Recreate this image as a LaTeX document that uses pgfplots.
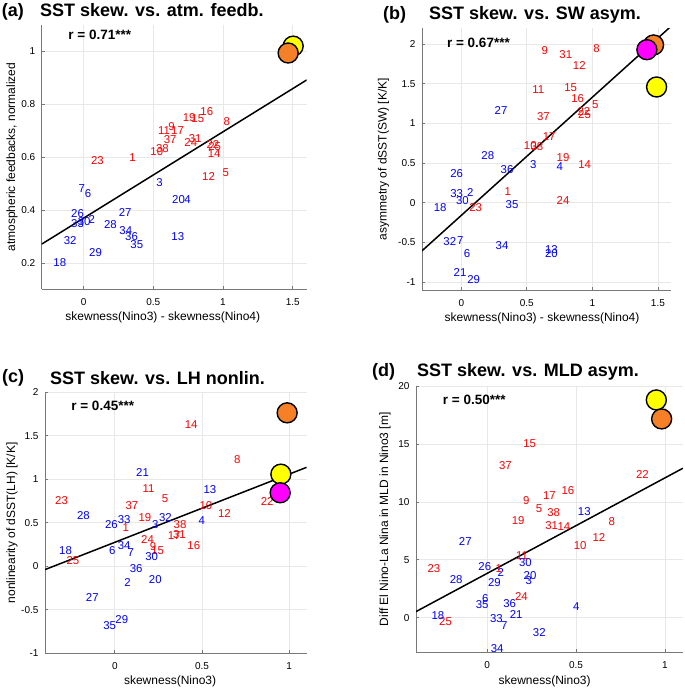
\documentclass[border=0pt]{standalone}
\usepackage{fontspec}
\setmainfont{Liberation Sans}
\usepackage{pgfplots}
\pgfplotsset{compat=1.18}
\definecolor{gridc}{RGB}{232,232,232}
\definecolor{axc}{RGB}{120,120,120}
\definecolor{morange}{RGB}{246,128,40}
\definecolor{myellow}{RGB}{255,255,0}
\definecolor{mmag}{RGB}{255,0,255}
\tikzset{rlab/.style={anchor=west, inner sep=0pt, font=\bfseries\fontsize{13.5}{15}\selectfont},
         plab/.style={font=\bfseries\fontsize{18}{20}\selectfont, anchor=west, inner sep=0pt},
         ttl/.style={font=\bfseries\fontsize{18}{20}\selectfont, anchor=west, inner sep=0pt}}
\pgfplotsset{
  base/.style={
    scale only axis, anchor=south west,
    axis x line*=bottom, axis y line*=left,
    axis line style={axc, line width=0.7pt, -},
    grid=major, grid style={gridc, line width=0.7pt},
    tick align=inside, major tick length=3pt,
    tick style={axc, line width=0.7pt},
    ticklabel style={font=\fontsize{10}{12}\selectfont, text=black},
    xticklabel style={yshift=-6pt},
    yticklabel style={xshift=-3pt},
    label style={font=\fontsize{12}{14}\selectfont},
    xlabel style={anchor=center},
    ylabel style={anchor=center},
    clip mode=individual,
  },
  lab/.style={draw=none, mark=none, nodes near coords, point meta=explicit symbolic,
    every node near coord/.append style={anchor=center, inner sep=0pt, text=#1, font=\fontsize{11.4}{12}\selectfont}},
  circ/.style={only marks, mark=*, mark size=10pt, mark options={fill=#1, draw=black, line width=1.4pt}},
  reg/.style={black, line width=1.5pt, no marks},
}
\begin{document}
\begin{tikzpicture}
\path[use as bounding box] (0pt,0pt) rectangle (685pt,688pt);
% ---------------- (a)
\begin{axis}[base, at={(41.7pt,398.7pt)}, width=265pt, height=264.3pt,
  xmin=-0.3, xmax=1.6, ymin=0.1, ymax=1.1,
  xtick={0,0.5,1,1.5}, xticklabels={0,0.5,1,1.5},
  ytick={0.2,0.4,0.6,0.8,1}, yticklabels={0.2,0.4,0.6,0.8,1},
  xlabel={skewness(Nino3) - skewness(Nino4)},
  ylabel={atmospheric feedbacks, normalized},
  xlabel style={at={(axis description cs:0.457,-0.107)}},
  ylabel style={at={(axis description cs:-0.112,0.5)}}]
\addplot[reg] coordinates {(-0.3,0.271) (1.6,0.892)};
\addplot[lab=red] table[meta=l] {
x y l
0.884 0.773 16
0.757 0.749 19
0.819 0.744 15
1.027 0.736 8
0.578 0.699 11
0.631 0.716 9
0.674 0.699 17
0.621 0.666 37
0.800 0.670 31
0.769 0.657 24
0.928 0.647 22
0.940 0.640 25
0.937 0.613 14
0.566 0.631 38
0.525 0.622 10
0.351 0.597 1
0.100 0.587 23
0.896 0.527 12
1.020 0.540 5
};
\addplot[lab=blue] table[meta=l] {
x y l
0.545 0.504 3
-0.012 0.481 7
0.033 0.462 6
0.681 0.439 20
0.745 0.440 4
-0.043 0.386 26
0.298 0.390 27
-0.043 0.349 33
0.004 0.355 30
0.060 0.364 2
0.193 0.345 28
0.303 0.321 34
0.344 0.298 36
0.382 0.271 35
0.676 0.300 13
-0.096 0.285 32
0.086 0.239 29
-0.170 0.200 18
};
\addplot[circ=myellow] coordinates {(1.503,1.02)};
\addplot[circ=morange] coordinates {(1.467,0.994)};
\node[rlab] at (rel axis cs:0.1,0.962) {r = 0.71***};
\end{axis}
% ---------------- (b)
\begin{axis}[base, at={(422pt,398pt)}, width=249pt, height=261.7pt,
  xmin=-0.3, xmax=1.6, ymin=-1.1, ymax=2.2,
  xtick={0,0.5,1,1.5}, xticklabels={0,0.5,1,1.5},
  ytick={-1,-0.5,0,0.5,1,1.5,2}, yticklabels={-1,-0.5,0,0.5,1,1.5,2},
  xlabel={skewness(Nino3) - skewness(Nino4)},
  ylabel={asymmetry of dSST(SW) [K/K]},
  xlabel style={at={(axis description cs:0.482,-0.108)}},
  ylabel style={at={(axis description cs:-0.155,0.5)}}]
\addplot[reg] coordinates {(-0.3,-0.606) (1.6,2.225)};
\addplot[lab=red] table[meta=l] {
x y l
0.637 1.920 9
0.797 1.865 31
1.032 1.940 8
0.900 1.730 12
0.587 1.430 11
0.835 1.455 15
0.888 1.316 16
1.022 1.235 5
0.936 1.155 22
0.940 1.117 25
0.627 1.083 37
0.670 0.838 17
0.526 0.724 10
0.577 0.703 38
0.776 0.568 19
0.941 0.479 14
0.354 0.140 1
0.776 0.027 24
0.109 -0.057 23
};
\addplot[lab=blue] table[meta=l] {
x y l
0.303 1.160 27
0.202 0.589 28
0.349 0.420 36
0.549 0.483 3
0.751 0.450 4
-0.035 0.365 26
-0.035 0.120 33
0.068 0.128 2
0.008 0.027 30
-0.162 -0.057 18
0.387 -0.028 35
-0.088 -0.493 32
-0.008 -0.480 7
0.311 -0.543 34
0.043 -0.640 6
0.688 -0.585 13
0.688 -0.636 20
-0.010 -0.880 21
0.094 -0.966 29
};
\addplot[circ=myellow] coordinates {(1.49,1.46)};
\addplot[circ=morange] coordinates {(1.467,1.99)};
\addplot[circ=mmag] coordinates {(1.416,1.93)};
\node[rlab] at (rel axis cs:0.1,0.946) {r = 0.67***};
\end{axis}
% ---------------- (c)
\begin{axis}[base, at={(45pt,34.7pt)}, width=261.7pt, height=261pt,
  xmin=-0.4, xmax=1.1, ymin=-1, ymax=2,
  xtick={0,0.5,1}, xticklabels={0,0.5,1},
  ytick={-1,-0.5,0,0.5,1,1.5,2}, yticklabels={-1,-0.5,0,0.5,1,1.5,2},
  xlabel={skewness(Nino3)},
  ylabel={nonlinearity of dSST(LH) [K/K]},
  xlabel style={at={(axis description cs:0.478,-0.109)}},
  ylabel style={at={(axis description cs:-0.126,0.5)}}]
\addplot[reg] coordinates {(-0.4,-0.038) (1.1,1.138)};
\addplot[lab=red] table[meta=l] {
x y l
0.438 1.634 14
0.702 1.232 8
0.194 0.891 11
-0.305 0.757 23
0.288 0.780 5
0.098 0.695 37
0.522 0.695 10
0.873 0.741 22
0.628 0.603 12
0.173 0.565 19
0.374 0.481 38
0.063 0.446 1
0.340 0.350 17
0.370 0.370 31
0.188 0.312 24
0.453 0.236 16
0.219 0.224 9
0.246 0.175 15
-0.240 0.065 25
};
\addplot[lab=blue] table[meta=l] {
x y l
0.159 1.075 21
0.545 0.887 13
-0.180 0.580 28
0.054 0.542 33
-0.019 0.481 26
0.232 0.481 3
0.290 0.557 32
0.499 0.530 4
-0.282 0.178 18
-0.015 0.186 6
0.054 0.243 34
0.092 0.163 7
0.211 0.109 30
0.123 -0.021 36
0.073 -0.186 2
0.232 -0.155 20
-0.129 -0.354 27
0.040 -0.611 29
-0.029 -0.684 35
};
\addplot[circ=myellow] coordinates {(0.952,1.059)};
\addplot[circ=morange] coordinates {(0.988,1.764)};
\addplot[circ=mmag] coordinates {(0.948,0.845)};
\node[rlab] at (rel axis cs:0.1,0.949) {r = 0.45***};
\end{axis}
% ---------------- (d)
\begin{axis}[base, at={(416pt,35.7pt)}, width=266.8pt, height=266pt,
  xmin=-0.4, xmax=1.1, ymin=-3, ymax=20,
  xtick={0,0.5,1}, xticklabels={0,0.5,1},
  ytick={0,5,10,15,20}, yticklabels={0,5,10,15,20},
  xlabel={skewness(Nino3)},
  ylabel={Diff El Nino-La Nina in MLD in Nino3 [m]},
  xlabel style={at={(axis description cs:0.482,-0.11)}},
  ylabel style={at={(axis description cs:-0.116,0.5)}}]
\addplot[reg] coordinates {(-0.4,0.52) (1.1,12.91)};
\addplot[lab=red] table[meta=l] {
x y l
0.239 15.08 15
0.103 13.12 37
0.873 12.35 22
0.454 10.96 16
0.350 10.53 17
0.220 10.10 9
0.292 9.41 5
0.374 9.06 38
0.701 8.29 8
0.174 8.40 19
0.363 7.94 31
0.432 7.88 14
0.628 6.96 12
0.523 6.19 10
0.196 5.35 11
0.065 4.26 1
-0.299 4.23 23
0.193 1.78 24
-0.234 -0.37 25
};
\addplot[lab=blue] table[meta=l] {
x y l
0.546 9.15 13
-0.123 6.62 27
0.215 4.78 30
-0.013 4.40 26
0.077 3.91 2
0.241 3.65 20
0.234 3.22 3
-0.174 3.28 28
0.041 3.02 29
-0.011 1.61 6
-0.028 1.12 35
0.127 1.24 36
0.501 0.98 4
-0.277 0.14 18
0.163 0.23 21
0.052 -0.09 33
0.097 -0.69 7
0.293 -1.27 32
0.056 -2.65 34
};
\addplot[circ=myellow] coordinates {(0.951,18.82)};
\addplot[circ=morange] coordinates {(0.981,17.18)};
\node[rlab] at (rel axis cs:0.1,0.949) {r = 0.50***};
\end{axis}
% ---------------- panel letters and titles
\node[plab] at (1.7pt,676.3pt) {(a)};
\node[ttl] at (40pt,677.5pt) {SST skew. vs. atm. feedb.};
\node[plab] at (383pt,673pt) {(b)};
\node[ttl] at (429pt,673pt) {SST skew. vs. SW asym.};
\node[plab] at (2pt,310pt) {(c)};
\node[ttl] at (50pt,310.3pt) {SST skew. vs. LH nonlin.};
\node[plab] at (372pt,316.3pt) {(d)};
\node[ttl] at (417pt,315.7pt) {SST skew. vs. MLD asym.};
\end{tikzpicture}
\end{document}
